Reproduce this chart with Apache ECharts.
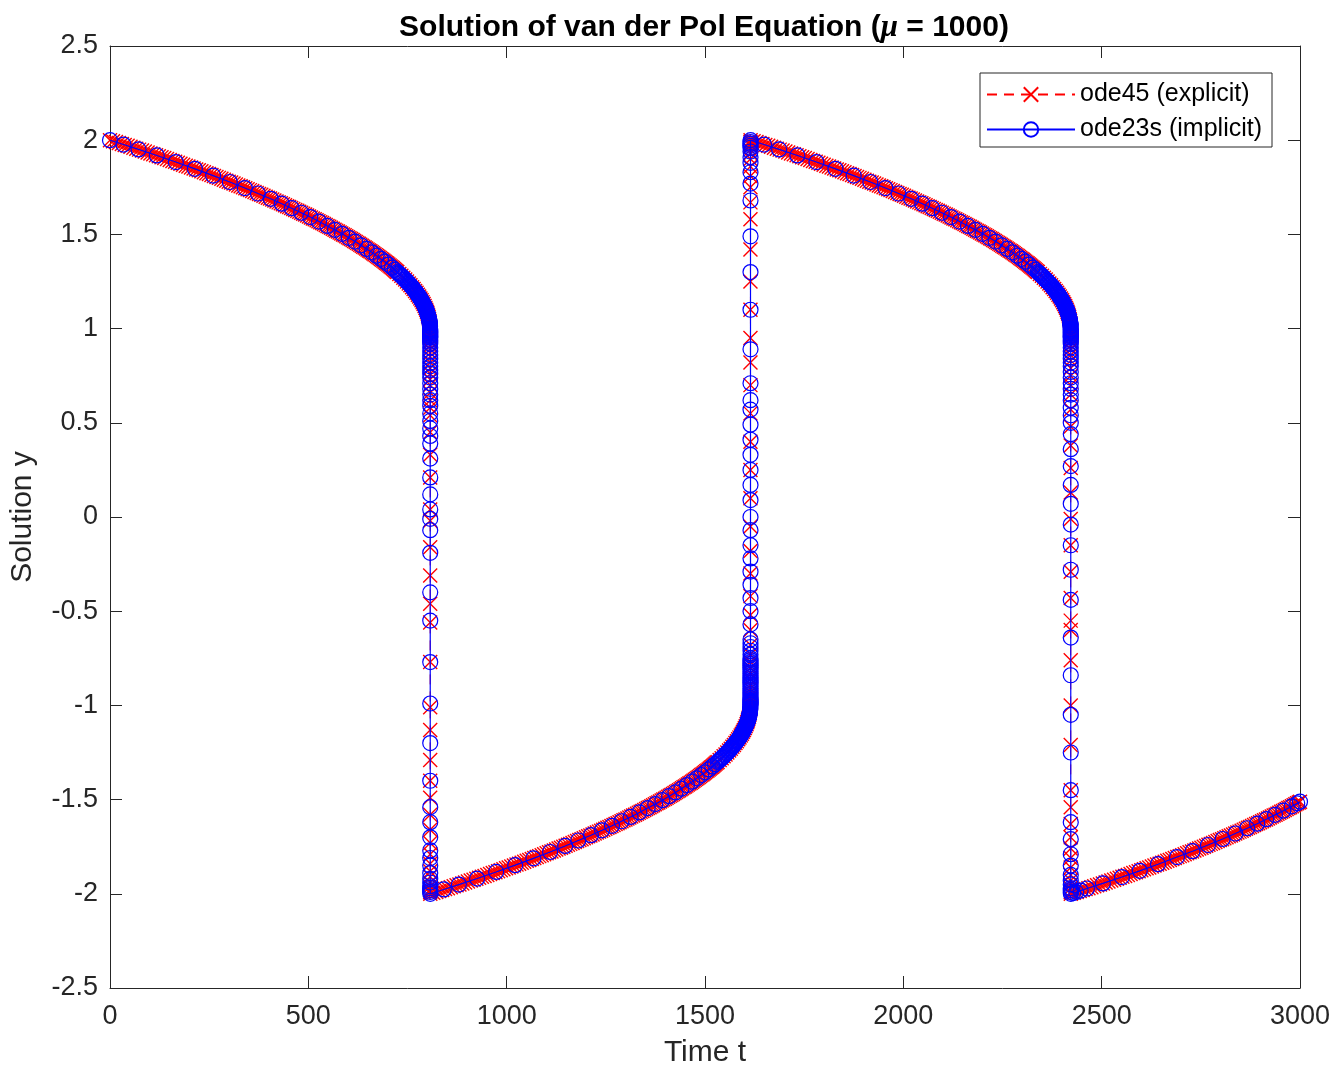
<!DOCTYPE html>
<html><head><meta charset="utf-8">
<script src="https://cdn.jsdelivr.net/npm/echarts@6/dist/echarts.min.js"></script>
<style>html,body{margin:0;padding:0;background:#fff}#c{width:1334px;height:1074px}</style>
</head><body><div id="c"></div><script>
// ---------- DATA ----------
const xTicks = [0, 500, 1000, 1500, 2000, 2500, 3000];
const yTicks = [-2.5, -2, -1.5, -1, -0.5, 0, 0.5, 1, 1.5, 2, 2.5];

// ode45 (explicit): the slow branches repeat; each branch is stored as the
// time elapsed since the branch onset, with the onset times of the 4 branches.
const ode45BranchOnset = [0, 807.5, 1614.9, 2422.3];
const ode45BranchDt = [0,7.5,14.9,22.4,29.8,37.1,44.4,51.7,59.0,66.2,73.4,80.6,87.7,94.8,101.9,109.0,116.0,123.0,129.9,136.8,143.7,150.6,157.4,164.2,170.9,177.6,184.3,191.0,197.6,204.2,210.8,217.3,223.8,230.3,236.7,243.1,249.5,255.8,262.1,268.4,274.6,280.8,287.0,293.2,299.3,305.4,311.4,317.4,323.4,329.3,335.2,341.1,346.9,352.7,358.5,364.3,370.0,375.7,381.3,386.9,392.5,398.0,403.5,409.0,414.4,419.8,425.2,430.6,435.9,441.2,446.4,451.6,456.7,461.9,467.0,472.1,477.1,482.1,487.0,492.0,496.9,501.7,506.5,511.3,516.1,520.8,525.5,530.1,534.7,539.3,543.9,548.4,552.8,557.3,561.7,566.1,570.4,574.7,578.9,583.1,587.3,591.5,595.6,599.7,603.7,607.7,611.7,615.6,619.5,623.4,627.2,631.0,634.7,638.4,642.1,645.7,649.3,652.9,656.4,659.9,663.3,666.7,670.1,673.4,676.7,680.0,683.2,686.4,689.5,692.6,695.7,698.7,701.7,704.7,707.6,710.5,713.3,716.1,718.8,721.5,724.2,729.4,734.5,739.4,744.2,748.7,753.2,757.4,761.5,765.4,769.2,772.8,776.2,779.4,782.5,785.4,788.1,790.6,793.0,795.2,797.2,799.0,800.6,802.1,803.3,804.4,805.3,806.0,806.5,806.8,806.9];
const ode45UpperY = [2,1.995,1.99,1.985,1.98,1.975,1.97,1.965,1.96,1.955,1.95,1.945,1.94,1.935,1.93,1.925,1.92,1.915,1.91,1.905,1.9,1.895,1.89,1.885,1.88,1.875,1.87,1.865,1.86,1.855,1.85,1.845,1.84,1.835,1.83,1.825,1.82,1.815,1.81,1.805,1.8,1.795,1.79,1.785,1.78,1.775,1.77,1.765,1.76,1.755,1.75,1.745,1.74,1.735,1.73,1.725,1.72,1.715,1.71,1.705,1.7,1.695,1.69,1.685,1.68,1.675,1.67,1.665,1.66,1.655,1.65,1.645,1.64,1.635,1.63,1.625,1.62,1.615,1.61,1.605,1.6,1.595,1.59,1.585,1.58,1.575,1.57,1.565,1.56,1.555,1.55,1.545,1.54,1.535,1.53,1.525,1.52,1.515,1.51,1.505,1.5,1.495,1.49,1.485,1.48,1.475,1.47,1.465,1.46,1.455,1.45,1.445,1.44,1.435,1.43,1.425,1.42,1.415,1.41,1.405,1.4,1.395,1.39,1.385,1.38,1.375,1.37,1.365,1.36,1.355,1.35,1.345,1.34,1.335,1.33,1.325,1.32,1.315,1.31,1.305,1.3,1.29,1.28,1.27,1.26,1.25,1.24,1.23,1.22,1.21,1.2,1.19,1.18,1.17,1.16,1.15,1.14,1.13,1.12,1.11,1.1,1.09,1.08,1.07,1.06,1.05,1.04,1.03,1.02,1.01,1];
const ode45LowerY = [-2,-1.995,-1.99,-1.985,-1.98,-1.975,-1.97,-1.965,-1.96,-1.955,-1.95,-1.945,-1.94,-1.935,-1.93,-1.925,-1.92,-1.915,-1.91,-1.905,-1.9,-1.895,-1.89,-1.885,-1.88,-1.875,-1.87,-1.865,-1.86,-1.855,-1.85,-1.845,-1.84,-1.835,-1.83,-1.825,-1.82,-1.815,-1.81,-1.805,-1.8,-1.795,-1.79,-1.785,-1.78,-1.775,-1.77,-1.765,-1.76,-1.755,-1.75,-1.745,-1.74,-1.735,-1.73,-1.725,-1.72,-1.715,-1.71,-1.705,-1.7,-1.695,-1.69,-1.685,-1.68,-1.675,-1.67,-1.665,-1.66,-1.655,-1.65,-1.645,-1.64,-1.635,-1.63,-1.625,-1.62,-1.615,-1.61,-1.605,-1.6,-1.595,-1.59,-1.585,-1.58,-1.575,-1.57,-1.565,-1.56,-1.555,-1.55,-1.545,-1.54,-1.535,-1.53,-1.525,-1.52,-1.515,-1.51,-1.505,-1.5,-1.495,-1.49,-1.485,-1.48,-1.475,-1.47,-1.465,-1.46,-1.455,-1.45,-1.445,-1.44,-1.435,-1.43,-1.425,-1.42,-1.415,-1.41,-1.405,-1.4,-1.395,-1.39,-1.385,-1.38,-1.375,-1.37,-1.365,-1.36,-1.355,-1.35,-1.345,-1.34,-1.335,-1.33,-1.325,-1.32,-1.315,-1.31,-1.305,-1.3,-1.29,-1.28,-1.27,-1.26,-1.25,-1.24,-1.23,-1.22,-1.21,-1.2,-1.19,-1.18,-1.17,-1.16,-1.15,-1.14,-1.13,-1.12,-1.11,-1.1,-1.09,-1.08,-1.07,-1.06,-1.05,-1.04,-1.03,-1.02,-1.01,-1];
const ode45EndPoint = [3000, -1.511];
// ode45 : fast jumps (time of the jump, y values of the steps)
const ode45Jump1T = 807.2;
const ode45Jump1Y = [0.995,0.99,0.98,0.97,0.96,0.95,0.93,0.91,0.89,0.87,0.85,0.82,0.79,0.76,0.73,0.70,0.66,0.62,0.58,0.54,0.45,0.33,0.21,0.04,-0.02,-0.16,-0.31,-0.46,-0.56,-0.77,-1.01,-1.13,-1.29,-1.40,-1.49,-1.58,-1.66,-1.73,-1.79,-1.84,-1.88,-1.91,-1.94,-1.96,-1.98,-1.99];
const ode45Jump2T = 1614.6;
const ode45Jump2Y = [-0.995,-0.99,-0.98,-0.97,-0.96,-0.95,-0.93,-0.91,-0.89,-0.86,-0.83,-0.80,-0.77,-0.73,-0.68,-0.60,-0.52,-0.42,-0.30,-0.18,-0.05,0.10,0.25,0.40,0.55,0.70,0.82,0.95,1.10,1.25,1.42,1.58,1.67,1.75,1.81,1.86,1.90,1.93,1.95,1.97,1.98,1.99];
const ode45Jump3T = 2422.0;
const ode45Jump3Y = [0.995,0.99,0.98,0.97,0.96,0.95,0.93,0.91,0.89,0.86,0.83,0.79,0.75,0.70,0.65,0.57,0.48,0.38,0.26,0.13,-0.01,-0.15,-0.29,-0.43,-0.55,-0.60,-0.76,-1.00,-1.21,-1.45,-1.54,-1.63,-1.70,-1.76,-1.81,-1.86,-1.90,-1.93,-1.95,-1.97,-1.99];

// ode23s (implicit) : slow branches
const ode23sUpperY = [2.000,1.977,1.951,1.919,1.884,1.848,1.812,1.778,1.746,1.717,1.689,1.663,1.639,1.615,1.592,1.568,1.545,1.524,1.503,1.482,1.462,1.442,1.423,1.405,1.387,1.370,1.355,1.340,1.324,1.312,1.300,1.295,1.290,1.285,1.280,1.275,1.270,1.265,1.260,1.255,1.250,1.245,1.240,1.235,1.230,1.225,1.220,1.215,1.210,1.205,1.200,1.195,1.190,1.185,1.180,1.175,1.170,1.165,1.160,1.155,1.150,1.145,1.140,1.135,1.130,1.125,1.120,1.115,1.110,1.105,1.100,1.095,1.090,1.085,1.080,1.075,1.070,1.065,1.060,1.055,1.050,1.045,1.040,1.035,1.030,1.025,1.020,1.015,1.010,1.000];
const ode23sLowerY = [-2.000,-1.977,-1.951,-1.919,-1.884,-1.848,-1.812,-1.778,-1.746,-1.717,-1.689,-1.663,-1.639,-1.615,-1.592,-1.568,-1.545,-1.524,-1.503,-1.482,-1.462,-1.442,-1.423,-1.405,-1.387,-1.370,-1.355,-1.340,-1.324,-1.312,-1.300,-1.295,-1.290,-1.285,-1.280,-1.275,-1.270,-1.265,-1.260,-1.255,-1.250,-1.245,-1.240,-1.235,-1.230,-1.225,-1.220,-1.215,-1.210,-1.205,-1.200,-1.195,-1.190,-1.185,-1.180,-1.175,-1.170,-1.165,-1.160,-1.155,-1.150,-1.145,-1.140,-1.135,-1.130,-1.125,-1.120,-1.115,-1.110,-1.105,-1.100,-1.095,-1.090,-1.085,-1.080,-1.075,-1.070,-1.065,-1.060,-1.055,-1.050,-1.045,-1.040,-1.035,-1.030,-1.025,-1.020,-1.015,-1.010,-1.000];
const ode23sUp1T = [0,34,72,118,166,214,260,302,340,373,405,433,458,482,505,527,548,567,585,602,618,633,647,660,672,683,693,702,711,717.7,724.2,726.8,729.4,732.0,734.5,737.0,739.4,741.8,744.2,746.5,748.7,751.0,753.2,755.3,757.4,759.5,761.5,763.5,765.4,767.3,769.2,771.0,772.8,774.5,776.2,777.8,779.4,781.0,782.5,784.0,785.4,786.8,788.1,789.4,790.6,791.8,793.0,794.1,795.2,796.2,797.2,798.1,799.0,799.8,800.6,801.4,802.1,802.7,803.3,803.9,804.4,804.9,805.3,805.7,806.0,806.3,806.5,806.7,806.8,806.9];
const ode23sLow1T = [807.5,841.5,879.5,925.5,973.5,1021.5,1067.5,1109.5,1147.5,1180.5,1212.5,1240.5,1265.5,1289.5,1312.5,1334.5,1355.5,1374.5,1392.5,1409.5,1425.5,1440.5,1454.5,1467.5,1479.5,1490.5,1500.5,1509.5,1518.5,1525.2,1531.7,1534.3,1536.9,1539.5,1542.0,1544.5,1546.9,1549.3,1551.7,1554.0,1556.2,1558.5,1560.7,1562.8,1564.9,1567.0,1569.0,1571.0,1572.9,1574.8,1576.7,1578.5,1580.3,1582.0,1583.7,1585.3,1586.9,1588.5,1590.0,1591.5,1592.9,1594.3,1595.6,1596.9,1598.1,1599.3,1600.5,1601.6,1602.7,1603.7,1604.7,1605.6,1606.5,1607.3,1608.1,1608.9,1609.6,1610.2,1610.8,1611.4,1611.9,1612.4,1612.8,1613.2,1613.5,1613.8,1614.0,1614.2,1614.3,1614.4];
const ode23sUp2T = [1614.9,1648.9,1686.9,1732.9,1780.9,1828.9,1874.9,1916.9,1954.9,1987.9,2019.9,2047.9,2072.9,2096.9,2119.9,2141.9,2162.9,2181.9,2199.9,2216.9,2232.9,2247.9,2261.9,2274.9,2286.9,2297.9,2307.9,2316.9,2325.9,2332.6,2339.1,2341.7,2344.3,2346.9,2349.4,2351.9,2354.3,2356.7,2359.1,2361.4,2363.6,2365.9,2368.1,2370.2,2372.3,2374.4,2376.4,2378.4,2380.3,2382.2,2384.1,2385.9,2387.7,2389.4,2391.1,2392.7,2394.3,2395.9,2397.4,2398.9,2400.3,2401.7,2403.0,2404.3,2405.5,2406.7,2407.9,2409.0,2410.1,2411.1,2412.1,2413.0,2413.9,2414.7,2415.5,2416.3,2417.0,2417.6,2418.2,2418.8,2419.3,2419.8,2420.2,2420.6,2420.9,2421.2,2421.4,2421.6,2421.7,2421.8];
const ode23sLow2T = [2422.3,2428,2436,2447,2463,2503,2551,2596,2642,2690,2729,2768,2805,2837,2867,2892,2915,2937,2958,2979,2993,3000];
const ode23sLow2Y = [-2.000,-1.996,-1.991,-1.983,-1.972,-1.945,-1.911,-1.878,-1.843,-1.805,-1.774,-1.741,-1.709,-1.680,-1.652,-1.628,-1.604,-1.581,-1.559,-1.536,-1.520,-1.511];
// ode23s : fast jumps
const ode23sJump1T = 807.3;
const ode23sJump1Y = [0.995,0.99,0.985,0.98,0.975,0.97,0.965,0.96,0.955,0.95,0.94,0.93,0.92,0.90,0.88,0.86,0.84,0.82,0.80,0.78,0.76,0.74,0.71,0.68,0.65,0.62,0.59,0.55,0.51,0.47,0.43,0.39,0.31,0.21,0.12,0.04,-0.01,-0.07,-0.19,-0.40,-0.55,-0.77,-0.99,-1.20,-1.40,-1.54,-1.62,-1.70,-1.77,-1.81,-1.85,-1.89,-1.92,-1.94,-1.96,-1.97,-1.98,-1.99];
const ode23sJump2T = 1614.7;
const ode23sJump2Y = [-0.995,-0.99,-0.985,-0.98,-0.975,-0.97,-0.96,-0.95,-0.94,-0.93,-0.92,-0.91,-0.90,-0.89,-0.88,-0.87,-0.86,-0.85,-0.84,-0.83,-0.82,-0.81,-0.80,-0.79,-0.78,-0.77,-0.76,-0.75,-0.73,-0.71,-0.69,-0.67,-0.65,-0.57,-0.50,-0.43,-0.36,-0.29,-0.22,-0.15,-0.07,0.0,0.09,0.17,0.25,0.33,0.41,0.49,0.57,0.62,0.71,0.89,1.10,1.30,1.49,1.68,1.77,1.83,1.88,1.91,1.94,1.96,1.97,1.98,1.99];
const ode23sJump3T = 2422.1;
const ode23sJump3Y = [0.995,0.99,0.985,0.98,0.975,0.97,0.965,0.96,0.955,0.95,0.94,0.93,0.92,0.90,0.88,0.86,0.84,0.82,0.80,0.77,0.74,0.71,0.68,0.65,0.62,0.58,0.54,0.50,0.44,0.36,0.27,0.17,0.07,-0.04,-0.15,-0.28,-0.44,-0.64,-0.84,-1.05,-1.25,-1.45,-1.62,-1.71,-1.79,-1.85,-1.90,-1.93,-1.95,-1.97,-1.98,-1.99];

const seriesNames = ['ode45 (explicit)', 'ode23s (implicit)'];

// ---------- BUILD ----------
const xMin = xTicks[0], xMax = xTicks[xTicks.length - 1], xInt = xTicks[1] - xTicks[0];
const yMin = yTicks[0], yMax = yTicks[yTicks.length - 1], yInt = yTicks[1] - yTicks[0];
const seg = (T, Y) => T.map((t, i) => [t, Y[i]]);
const jump = (t, Y) => Y.map(y => [t, y]);
const branch = (onset, Y) => ode45BranchDt.map((dt, i) => [onset + dt, Y[i]]).filter(p => p[0] <= xMax);
const ode45Data = [].concat(
  branch(ode45BranchOnset[0], ode45UpperY), jump(ode45Jump1T, ode45Jump1Y),
  branch(ode45BranchOnset[1], ode45LowerY), jump(ode45Jump2T, ode45Jump2Y),
  branch(ode45BranchOnset[2], ode45UpperY), jump(ode45Jump3T, ode45Jump3Y),
  branch(ode45BranchOnset[3], ode45LowerY), [ode45EndPoint]);
const ode23sData = [].concat(
  seg(ode23sUp1T, ode23sUpperY), jump(ode23sJump1T, ode23sJump1Y),
  seg(ode23sLow1T, ode23sLowerY), jump(ode23sJump2T, ode23sJump2Y),
  seg(ode23sUp2T, ode23sUpperY), jump(ode23sJump3T, ode23sJump3Y),
  seg(ode23sLow2T, ode23sLow2Y));

const FONT = '"Liberation Sans", Arial, Helvetica, sans-serif';
const AX = '#262626';

function axisBase(extra) {
  return Object.assign({
    type: 'value',
    axisLine: { show: true, onZero: false, lineStyle: { color: AX, width: 1 } },
    axisTick: { show: true, inside: true, length: 12, lineStyle: { color: AX, width: 1 } },
    splitLine: { show: false },
  }, extra);
}

const chart = echarts.init(document.getElementById('c'), null, { renderer: 'canvas' });
chart.setOption({
  animation: false,
  backgroundColor: '#ffffff',
  textStyle: { fontFamily: FONT },
  title: {
    text: '{b|Solution of van der Pol Equation (}{m|μ}{b| = 1000)}',
    left: 704, top: 12, textAlign: 'center', padding: 0,
    textStyle: {
      rich: {
        b: { fontFamily: FONT, fontSize: 30, fontWeight: 'bold', color: '#000' },
        m: { fontFamily: '"Liberation Serif", "DejaVu Serif", serif', fontStyle: 'italic', fontSize: 31, color: '#000' }
      }
    }
  },
  legend: {
    data: seriesNames,
    orient: 'vertical',
    left: 980, top: 73,
    padding: [9, 10, 5, 6],
    itemWidth: 88, itemHeight: 18, itemGap: 10,
    backgroundColor: '#ffffff',
    borderColor: AX, borderWidth: 1, borderRadius: 0,
    textStyle: { fontFamily: FONT, fontSize: 25, color: '#000' },
    selectedMode: false
  },
  grid: { left: 110, right: 34, top: 46, bottom: 86, containLabel: false },
  xAxis: [
    axisBase({
      min: xMin, max: xMax, interval: xInt, position: 'bottom',
      name: 'Time t', nameLocation: 'middle', nameGap: 50,
      nameTextStyle: { fontFamily: FONT, fontSize: 30, color: AX },
      axisLabel: { fontFamily: FONT, fontSize: 27, color: AX, margin: 15, formatter: v => String(v) }
    }),
    axisBase({ min: xMin, max: xMax, interval: xInt, position: 'top', axisLabel: { show: false } })
  ],
  yAxis: [
    axisBase({
      min: yMin, max: yMax, interval: yInt, position: 'left',
      name: 'Solution y', nameLocation: 'middle', nameGap: 72,
      nameTextStyle: { fontFamily: FONT, fontSize: 30, color: AX },
      axisLabel: { fontFamily: FONT, fontSize: 27, color: AX, margin: 12, formatter: v => String(v) }
    }),
    axisBase({ min: yMin, max: yMax, interval: yInt, position: 'right', axisLabel: { show: false } })
  ],
  series: [
    {
      name: seriesNames[0], type: 'line', data: ode45Data,
      xAxisIndex: 0, yAxisIndex: 0,
      symbol: 'path://M0,0L10,10M10,0L0,10', symbolSize: 14, symbolKeepAspect: true,
      showSymbol: true, showAllSymbol: true, clip: false, sampling: 'none',
      lineStyle: { color: '#ff0000', width: 1, type: [10, 7] },
      itemStyle: { color: '#ff0000', borderColor: '#ff0000', borderWidth: 1.4 },
      emphasis: { disabled: true }, z: 2
    },
    {
      name: seriesNames[1], type: 'line', data: ode23sData,
      xAxisIndex: 0, yAxisIndex: 0,
      symbol: 'circle', symbolSize: 15,
      showSymbol: true, showAllSymbol: true, clip: false, sampling: 'none',
      lineStyle: { color: '#0000ff', width: 1.2 },
      itemStyle: { color: 'rgba(255,255,255,0)', borderColor: '#0000ff', borderWidth: 1.2 },
      emphasis: { disabled: true }, z: 3
    }
  ]
});
</script></body></html>
